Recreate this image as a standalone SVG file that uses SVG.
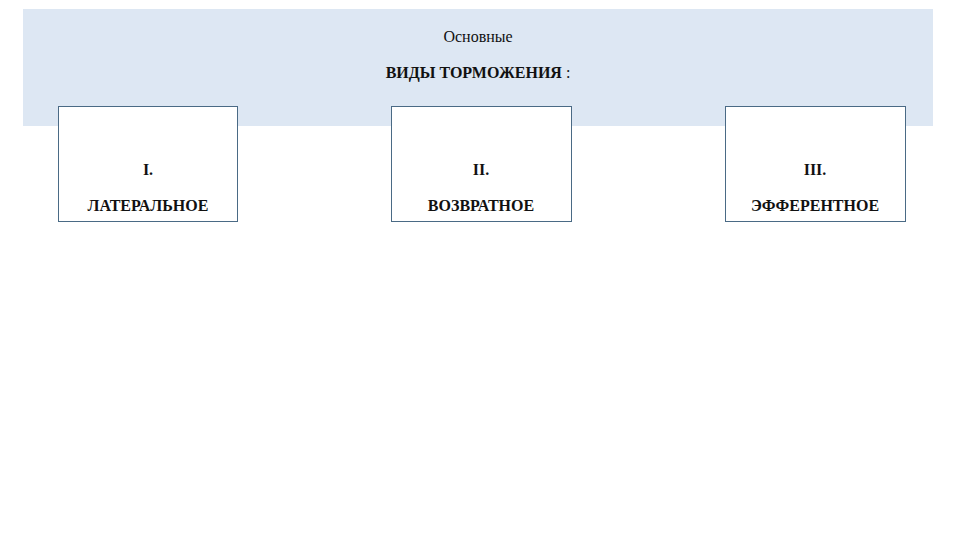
<svg xmlns="http://www.w3.org/2000/svg" width="960" height="540" viewBox="0 0 960 540">
<style>
text{font-family:"Liberation Serif",serif;font-size:16px;fill:#111;text-anchor:middle}
.b{font-weight:bold}
.box{fill:#fff;stroke:#4a6a85;stroke-width:1}
</style>
<rect width="960" height="540" fill="#fff"/>
<g id="header">
<rect x="23" y="9" width="910" height="117" fill="#dde7f3"/>
<text x="478" y="42">Основные</text>
<text x="478" y="78"><tspan class="b">ВИДЫ ТОРМОЖЕНИЯ</tspan> :</text>
</g>
<g id="n1"><rect class="box" x="58.5" y="106.5" width="179" height="115"/>
<text class="b" x="148" y="175">I.</text><text class="b" x="148" y="211">ЛАТЕРАЛЬНОЕ</text></g>
<g id="n2"><rect class="box" x="391.5" y="106.5" width="180" height="115"/>
<text class="b" x="481" y="175">II.</text><text class="b" x="481" y="211">ВОЗВРАТНОЕ</text></g>
<g id="n3"><rect class="box" x="725.5" y="106.5" width="180" height="115"/>
<text class="b" x="815" y="175">III.</text><text class="b" x="815" y="211">ЭФФЕРЕНТНОЕ</text></g>
<g id="connectors"/>
</svg>
